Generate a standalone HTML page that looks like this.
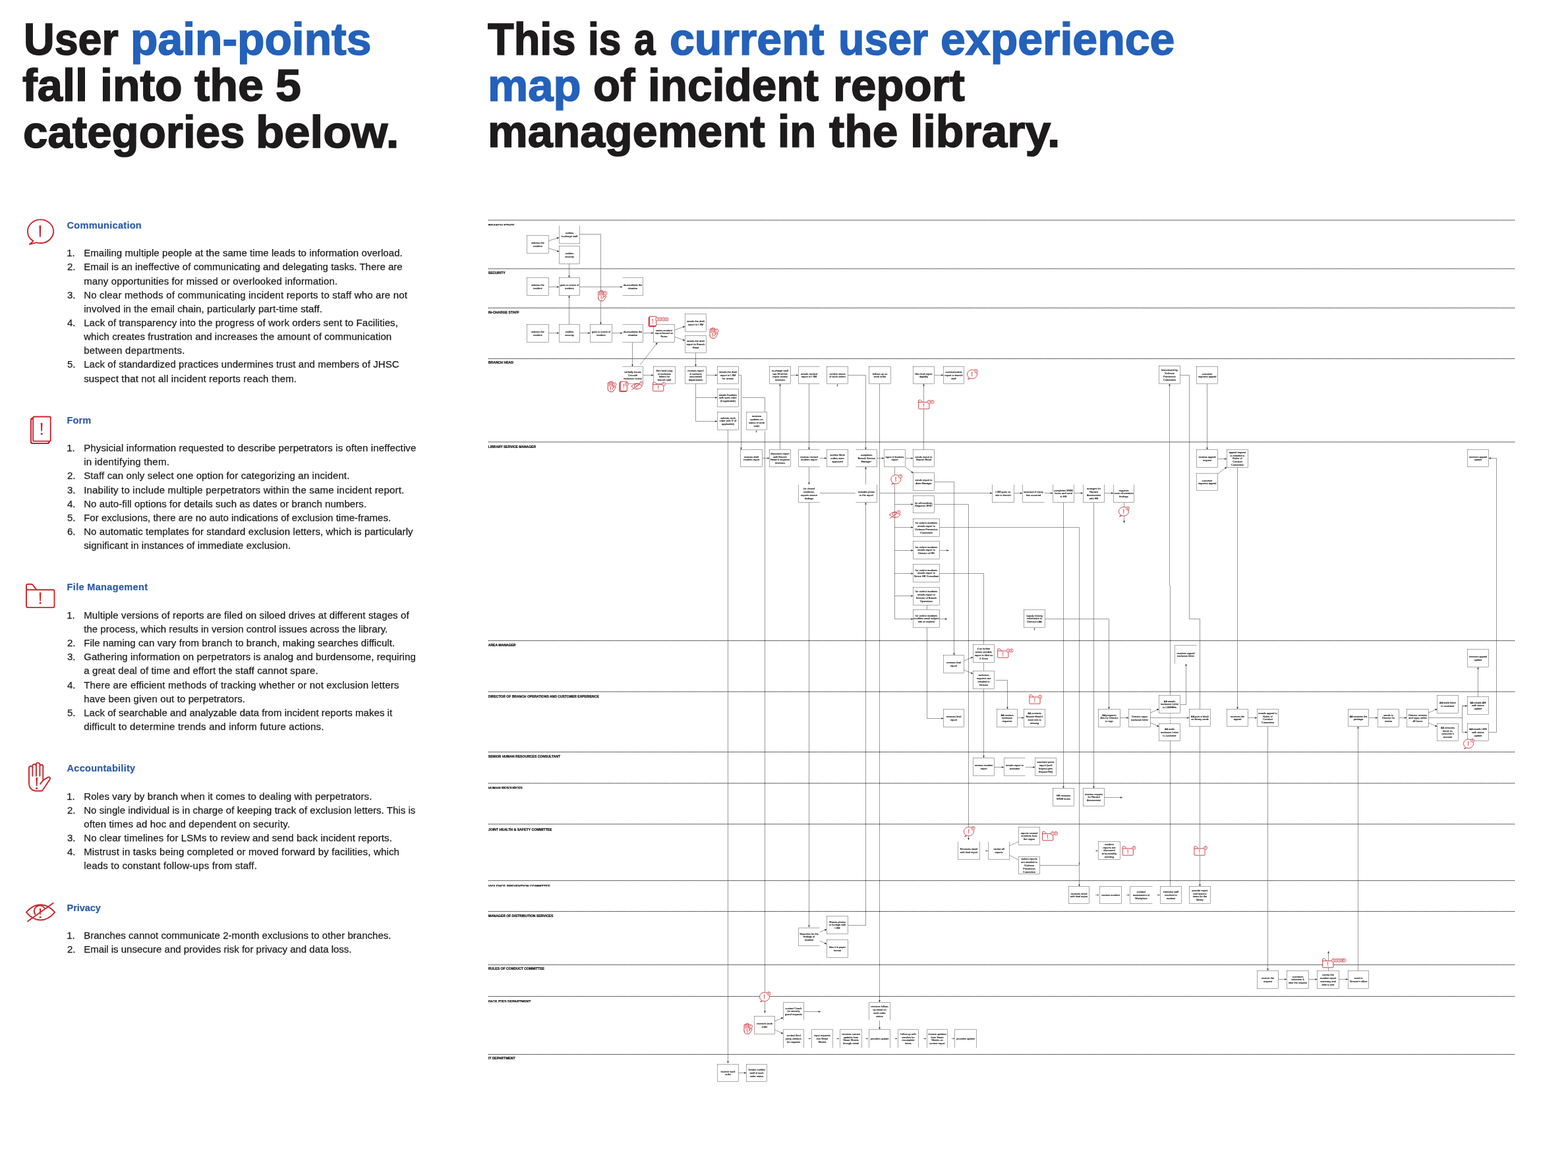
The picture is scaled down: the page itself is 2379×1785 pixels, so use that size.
<!DOCTYPE html>
<html lang="en"><head><meta charset="utf-8"><title>User experience map of incident report management</title>
<style>
html,body{margin:0;padding:0;background:#fff}
body{width:2379px;height:1785px;position:relative;overflow:hidden;font-family:"Liberation Sans",Arial,sans-serif;color:#222}
h1,h2,ol,li,section{margin:0;padding:0;list-style:none;font-weight:normal;font-size:inherit}
.hl{position:absolute;white-space:pre;font-size:69px;line-height:70px;font-weight:bold;color:#1d1b1c;-webkit-text-stroke:1.6px currentColor;transform-origin:0 0}
.hl.b{color:#2461ba}
.st{position:absolute;white-space:nowrap;font-size:14.6px;line-height:21px;font-weight:bold;color:#2e5ca8;-webkit-text-stroke:0.2px #2e5ca8}
.tl{position:absolute;white-space:nowrap;font-size:15px;line-height:21px;color:#1c1c1c;-webkit-text-stroke:0.25px #1c1c1c}
.ic{position:absolute;overflow:visible}
#map{position:absolute;left:0;top:0}
</style></head>
<body>
<h1><span class="hl" style="left:36.1px;top:25.09px;transform:scaleX(0.9365)">User </span>
<span class="hl b" style="left:198.31px;top:25.09px;transform:scaleX(0.9827)">pain-points</span>
<span class="hl" style="left:34.28px;top:95.09px;transform:scaleX(0.9944)">fall </span>
<span class="hl" style="left:151.99px;top:95.09px;transform:scaleX(0.9861)">into </span>
<span class="hl" style="left:294.86px;top:95.09px;transform:scaleX(1.0148)">the </span>
<span class="hl" style="left:418.06px;top:95.09px;transform:scaleX(1.0116)">5</span>
<span class="hl" style="left:34.64px;top:165.59px;transform:scaleX(0.9747)">categories </span>
<span class="hl" style="left:388.34px;top:165.59px;transform:scaleX(1.0248)">below.</span></h1>
<main>
<section>
<svg class="ic" style="left:38px;top:328px" width="50" height="48" viewBox="38 328 50 48" fill="none" stroke="#c9252c" stroke-width="1.9" stroke-linejoin="round" stroke-linecap="round"><path fill="#fff" d="M50.6 365.9 C44.4 362.7 41.9 357.2 41.9 351.1 C41.9 341.4 50.7 333.4 61.5 333.4 C72.3 333.4 81.2 341.4 81.2 351.1 C81.2 360.9 72.3 369 61.5 369 C59.3 369 57.2 368.7 55.3 368.1 L44.9 370.8 Z"/><path d="M59.45 342.3 L62.35 342.3 L61.77 359.8 L60.03 359.8 Z" fill="#c9252c" stroke="none"/></svg>
<h2 class="st" style="left:101.6px;top:331.89px;letter-spacing:0.24px">Communication</h2>
<ol>
<li><span class="tl" style="left:101.2px;top:373.32px">1.</span><span class="tl" style="left:127.2px;top:373.32px;letter-spacing:0.07px">Emailing multiple people at the same time leads to information overload.</span></li>
<li><span class="tl" style="left:102px;top:394.46px">2.</span><span class="tl" style="left:127.2px;top:394.46px;letter-spacing:0.03px">Email is an ineffective of communicating and delegating tasks. There are</span><span class="tl" style="left:127.2px;top:415.59px;letter-spacing:0.13px">many opportunities for missed or overlooked information.</span></li>
<li><span class="tl" style="left:102px;top:436.73px">3.</span><span class="tl" style="left:127.2px;top:436.73px;letter-spacing:0.19px">No clear methods of communicating incident reports to staff who are not</span><span class="tl" style="left:127.2px;top:457.86px;letter-spacing:0.09px">involved in the email chain, particularly part-time staff.</span></li>
<li><span class="tl" style="left:102px;top:479px">4.</span><span class="tl" style="left:127.2px;top:479px;letter-spacing:0.09px">Lack of transparency into the progress of work orders sent to Facilities,</span><span class="tl" style="left:127.2px;top:500.13px;letter-spacing:0.09px">which creates frustration and increases the amount of communication</span><span class="tl" style="left:127.2px;top:521.27px;letter-spacing:0.25px">between departments.</span></li>
<li><span class="tl" style="left:102px;top:542.4px">5.</span><span class="tl" style="left:127.2px;top:542.4px;letter-spacing:0.06px">Lack of standardized practices undermines trust and members of JHSC</span><span class="tl" style="left:127.2px;top:563.54px;letter-spacing:0.16px">suspect that not all incident reports reach them.</span></li>
</ol>
</section>
<section>
<svg class="ic" style="left:42px;top:628px" width="40" height="50" viewBox="42 628 40 50" fill="none" stroke="#c9252c" stroke-width="1.9" stroke-linejoin="round" stroke-linecap="round"><path fill="#fff" d="M50.1 634.7 Q46.9 634.9 46.9 638 L46.9 670.3 Q46.9 672.95 49.6 672.95 L72 672.95 Q74.7 672.95 74.8 669.9"/><rect fill="#fff" x="50.15" y="632.55" width="26.6" height="37.1" rx="1.6"/><path d="M50.1 634.7 Q46.9 634.9 46.9 638 L46.9 670.3 Q46.9 672.95 49.6 672.95 L72 672.95 Q74.7 672.95 74.8 669.9"/><path d="M61.75 642 L64.45 642 L63.91 654.4 L62.29 654.4 Z" fill="#c9252c" stroke="none"/><circle cx="63.1" cy="658.4" r="1.5" fill="#c9252c" stroke="none"/></svg>
<h2 class="st" style="left:101.6px;top:627.78px;letter-spacing:0.03px">Form</h2>
<ol>
<li><span class="tl" style="left:101.2px;top:669.21px">1.</span><span class="tl" style="left:127.2px;top:669.21px;letter-spacing:0.12px">Physicial information requested to describe perpetrators is often ineffective</span><span class="tl" style="left:127.2px;top:690.35px;letter-spacing:0.24px">in identifying them.</span></li>
<li><span class="tl" style="left:102px;top:711.48px">2.</span><span class="tl" style="left:127.2px;top:711.48px;letter-spacing:0.12px">Staff can only select one option for categorizing an incident.</span></li>
<li><span class="tl" style="left:102px;top:732.62px">3.</span><span class="tl" style="left:127.2px;top:732.62px;letter-spacing:0.19px">Inability to include multiple perpetrators within the same incident report.</span></li>
<li><span class="tl" style="left:102px;top:753.75px">4.</span><span class="tl" style="left:127.2px;top:753.75px;letter-spacing:0.07px">No auto-fill options for details such as dates or branch numbers.</span></li>
<li><span class="tl" style="left:102px;top:774.89px">5.</span><span class="tl" style="left:127.2px;top:774.89px;letter-spacing:0.01px">For exclusions, there are no auto indications of exclusion time-frames.</span></li>
<li><span class="tl" style="left:102px;top:796.02px">6.</span><span class="tl" style="left:127.2px;top:796.02px;letter-spacing:0.1px">No automatic templates for standard exclusion letters, which is particularly</span><span class="tl" style="left:127.2px;top:817.16px;letter-spacing:0.06px">significant in instances of immediate exclusion.</span></li>
</ol>
</section>
<section>
<svg class="ic" style="left:36px;top:882px" width="52" height="46" viewBox="36 882 52 46" fill="none" stroke="#c9252c" stroke-width="1.9" stroke-linejoin="round" stroke-linecap="round"><path fill="#fff" d="M40 895.2 L80.4 895.2 Q82.5 895.2 82.5 897.3 L82.5 920 Q82.5 922.1 80.4 922.1 L42.1 922.1 Q40 922.1 40 920 L40 888.6 Q40 886.7 42 886.7 L47.6 886.7 Q49 886.7 49.8 887.9 L55.4 895.2"/><path d="M59.8 899.2 L62.4 899.2 L61.88 912.4 L60.32 912.4 Z" fill="#c9252c" stroke="none"/><circle cx="61.1" cy="915.3" r="1.5" fill="#c9252c" stroke="none"/></svg>
<h2 class="st" style="left:101.6px;top:881.4px;letter-spacing:0.29px">File Management</h2>
<ol>
<li><span class="tl" style="left:101.2px;top:922.83px">1.</span><span class="tl" style="left:127.2px;top:922.83px;letter-spacing:0.11px">Multiple versions of reports are filed on siloed drives at different stages of</span><span class="tl" style="left:127.2px;top:943.97px;letter-spacing:0.04px">the process, which results in version control issues across the library.</span></li>
<li><span class="tl" style="left:102px;top:965.1px">2.</span><span class="tl" style="left:127.2px;top:965.1px;letter-spacing:0.09px">File naming can vary from branch to branch, making searches difficult.</span></li>
<li><span class="tl" style="left:102px;top:986.24px">3.</span><span class="tl" style="left:127.2px;top:986.24px;letter-spacing:0.08px">Gathering information on perpetrators is analog and burdensome, requiring</span><span class="tl" style="left:127.2px;top:1007.37px;letter-spacing:0.14px">a great deal of time and effort the staff cannot spare.</span></li>
<li><span class="tl" style="left:102px;top:1028.51px">4.</span><span class="tl" style="left:127.2px;top:1028.51px;letter-spacing:0.15px">There are efficient methods of tracking whether or not exclusion letters</span><span class="tl" style="left:127.2px;top:1049.64px;letter-spacing:0.11px">have been given out to perpetrators.</span></li>
<li><span class="tl" style="left:102px;top:1070.78px">5.</span><span class="tl" style="left:127.2px;top:1070.78px;letter-spacing:0.04px">Lack of searchable and analyzable data from incident reports makes it</span><span class="tl" style="left:127.2px;top:1091.91px;letter-spacing:0.2px">difficult to determine trends and inform future actions.</span></li>
</ol>
</section>
<section>
<svg class="ic" style="left:40px;top:1153px" width="42" height="52" viewBox="40 1153 42 52" fill="none" stroke="#c9252c" stroke-width="1.9" stroke-linejoin="round" stroke-linecap="round"><path fill="#fff" d="M44 1188.5 L44 1165.6 Q44 1162.9 46.7 1162.9 Q49.4 1162.9 49.4 1165.6 L49.4 1177.8 M49.4 1165.6 L49.4 1162.6 Q49.4 1159.9 52.15 1159.9 Q54.9 1159.9 54.9 1162.6 L54.9 1177.8 M54.9 1162.6 L54.9 1160.5 Q54.9 1157.85 57.65 1157.85 Q60.4 1157.85 60.4 1160.5 L60.4 1177.8 M60.4 1163.4 Q60.4 1160.7 62.85 1160.7 Q65.3 1160.7 65.3 1163.4 L65.3 1184.4 L72.6 1179.9 Q74.4 1178.9 75.6 1180.3 Q76.5 1181.6 75.6 1183 L63.9 1200.45 L53.4 1200.45 Q44 1199 44 1188.5 M65.3 1184.4 L61.2 1189.9"/><path d="M54.35 1180.2 L57.05 1180.2 L56.51 1193.3 L54.89 1193.3 Z" fill="#c9252c" stroke="none"/><circle cx="55.7" cy="1196.4" r="1.5" fill="#c9252c" stroke="none"/></svg>
<h2 class="st" style="left:101.6px;top:1156.16px;letter-spacing:0.23px">Accountability</h2>
<ol>
<li><span class="tl" style="left:101.2px;top:1197.59px">1.</span><span class="tl" style="left:127.2px;top:1197.59px;letter-spacing:0.11px">Roles vary by branch when it comes to dealing with perpetrators.</span></li>
<li><span class="tl" style="left:102px;top:1218.72px">2.</span><span class="tl" style="left:127.2px;top:1218.72px;letter-spacing:0.04px">No single individual is in charge of keeping track of exclusion letters. This is</span><span class="tl" style="left:127.2px;top:1239.86px;letter-spacing:0.14px">often times ad hoc and dependent on security.</span></li>
<li><span class="tl" style="left:102px;top:1260.99px">3.</span><span class="tl" style="left:127.2px;top:1260.99px;letter-spacing:0.11px">No clear timelines for LSMs to review and send back incident reports.</span></li>
<li><span class="tl" style="left:102px;top:1282.13px">4.</span><span class="tl" style="left:127.2px;top:1282.13px;letter-spacing:0.17px">Mistrust in tasks being completed or moved forward by facilities, which</span><span class="tl" style="left:127.2px;top:1303.26px;letter-spacing:0.18px">leads to constant follow-ups from staff.</span></li>
</ol>
</section>
<section>
<svg class="ic" style="left:36px;top:1366px" width="52" height="38" viewBox="36 1366 52 38" fill="none" stroke="#c9252c" stroke-width="1.9" stroke-linejoin="round" stroke-linecap="round"><path d="M39.9 1384.6 Q49.5 1373.2 61.5 1373.2 Q73.5 1373.2 83.1 1384.6 Q73.5 1396.5 61.5 1396.5 Q49.5 1396.5 39.9 1384.6 Z"/><path d="M41.9 1398.4 L80.7 1370.7"/><path d="M53.3 1387.8 A8.1 8.1 0 0 1 67.4 1378.2"/><path d="M59.95 1378.9 L62.25 1378.9 L61.79 1388.3 L60.41 1388.3 Z" fill="#c9252c" stroke="none"/><circle cx="61.1" cy="1392.2" r="1.4" fill="#c9252c" stroke="none"/></svg>
<h2 class="st" style="left:101.6px;top:1367.51px;letter-spacing:-0.1px">Privacy</h2>
<ol>
<li><span class="tl" style="left:101.2px;top:1408.94px">1.</span><span class="tl" style="left:127.2px;top:1408.94px;letter-spacing:0.03px">Branches cannot communicate 2-month exclusions to other branches.</span></li>
<li><span class="tl" style="left:102px;top:1430.07px">2.</span><span class="tl" style="left:127.2px;top:1430.07px;letter-spacing:-0.01px">Email is unsecure and provides risk for privacy and data loss.</span></li>
</ol>
</section>
</main>
<h1><span class="hl" style="left:740.48px;top:25.09px;transform:scaleX(0.9414)">This </span>
<span class="hl" style="left:892.23px;top:25.09px;transform:scaleX(0.8761)">is </span>
<span class="hl" style="left:961.58px;top:25.09px;transform:scaleX(0.8456)">a </span>
<span class="hl b" style="left:1016.02px;top:25.09px;transform:scaleX(0.9859)">current </span>
<span class="hl b" style="left:1271.7px;top:25.09px;transform:scaleX(0.9344)">user </span>
<span class="hl b" style="left:1426.82px;top:25.09px;transform:scaleX(0.9855)">experience</span>
<span class="hl b" style="left:739.85px;top:95.09px;transform:scaleX(0.9970)">map </span>
<span class="hl" style="left:900.34px;top:95.09px;transform:scaleX(0.9750)">of </span>
<span class="hl" style="left:983.42px;top:95.09px;transform:scaleX(0.9794)">incident </span>
<span class="hl" style="left:1264.03px;top:95.09px;transform:scaleX(1.0020)">report</span>
<span class="hl" style="left:739.88px;top:165.49px;transform:scaleX(0.9882)">management </span>
<span class="hl" style="left:1180.45px;top:165.49px;transform:scaleX(0.9472)">in </span>
<span class="hl" style="left:1257.75px;top:165.49px;transform:scaleX(1.0090)">the </span>
<span class="hl" style="left:1381.19px;top:165.49px;transform:scaleX(1.0110)">library.</span></h1>
<svg id="map" width="2379" height="1785" viewBox="0 0 2379 1785" font-family="&quot;Liberation Sans&quot;, Arial, sans-serif">
<defs>
<clipPath id="lc0"><rect x="730" y="335.25" width="300" height="7"/></clipPath>
<clipPath id="lc8"><rect x="730" y="1190" width="300" height="7.3"/></clipPath>
<clipPath id="lc10"><rect x="730" y="1337.75" width="300" height="7.8"/></clipPath>
<clipPath id="lc13"><rect x="730" y="1513.5" width="300" height="7.8"/></clipPath>
</defs>
<g stroke="#000" stroke-width="1" stroke-dasharray="1.3 0.8" fill="none">
<path d="M740.75 334.15H2298.5"/>
<path d="M740.75 407.9H2298.5"/>
<path d="M740.75 467.4H2298.5"/>
<path d="M740.75 544.4H2298.5"/>
<path d="M740.75 670.9H2298.5"/>
<path d="M740.75 972.4H2298.5"/>
<path d="M740.75 1049.9H2298.5"/>
<path d="M740.75 1141.4H2298.5"/>
<path d="M740.75 1188.9H2298.5"/>
<path d="M740.75 1250.9H2298.5"/>
<path d="M740.75 1336.65H2298.5"/>
<path d="M740.75 1383.4H2298.5"/>
<path d="M740.75 1464.4H2298.5"/>
<path d="M740.75 1512.4H2298.5"/>
<path d="M740.75 1600.4H2298.5"/>
</g>
<g font-size="5.3" font-weight="bold" fill="#000" stroke="#000" stroke-width="0.2">
<text x="740.75" y="343.8" textLength="39.75" lengthAdjust="spacingAndGlyphs" clip-path="url(#lc0)">BRANCH STAFF</text>
<text x="740.75" y="415.95" textLength="26" lengthAdjust="spacingAndGlyphs">SECURITY</text>
<text x="740.75" y="476.45" textLength="47" lengthAdjust="spacingAndGlyphs">IN-CHARGE STAFF</text>
<text x="740.75" y="552.45" textLength="38.25" lengthAdjust="spacingAndGlyphs">BRANCH HEAD</text>
<text x="740.75" y="679.95" textLength="72.25" lengthAdjust="spacingAndGlyphs">LIBRARY SERVICE MANAGER</text>
<text x="740.75" y="981.2" textLength="41.75" lengthAdjust="spacingAndGlyphs">AREA MANAGER</text>
<text x="740.75" y="1059.45" textLength="168" lengthAdjust="spacingAndGlyphs">DIRECTOR OF BRANCH OPERATIONS AND CUSTOMER EXPERIENCE</text>
<text x="740.75" y="1149.95" textLength="109.25" lengthAdjust="spacingAndGlyphs">SENIOR HUMAN RESOURCES CONSULTANT</text>
<text x="740.75" y="1198.15" textLength="52.25" lengthAdjust="spacingAndGlyphs" clip-path="url(#lc8)">HUMAN RESOURCES</text>
<text x="740.75" y="1260.7" textLength="96.75" lengthAdjust="spacingAndGlyphs">JOINT HEALTH &amp; SAFETY COMMITTEE</text>
<text x="740.75" y="1346.7" textLength="94.25" lengthAdjust="spacingAndGlyphs" clip-path="url(#lc10)">VIOLENCE PREVENTION COMMITTEE</text>
<text x="740.75" y="1391.95" textLength="98.5" lengthAdjust="spacingAndGlyphs">MANAGER OF DISTRIBUTION SERVICES</text>
<text x="740.75" y="1472.45" textLength="85.25" lengthAdjust="spacingAndGlyphs">RULES OF CONDUCT COMMITTEE</text>
<text x="740.75" y="1522.45" textLength="64.75" lengthAdjust="spacingAndGlyphs" clip-path="url(#lc13)">FACILITIES DEPARTMENT</text>
<text x="740.75" y="1608.2" textLength="40.75" lengthAdjust="spacingAndGlyphs">IT DEPARTMENT</text>
</g>
<g fill="none" stroke="#222" stroke-width="0.46">
<path d="M832.5 365.5 L848.25 360.5"/>
<path d="M832.5 376.75 L848.25 382"/>
<path d="M879.5 355.5 L911.5 355.5 L911.5 492.5"/>
<path d="M863.5 400.5 L863.5 421.5"/>
<path d="M832.5 435.5 L848.25 435.5"/>
<path d="M879.5 435.5 L944.5 435.5"/>
<path d="M863.5 492.5 L863.5 448.5"/>
<path d="M832.5 505.5 L848.25 505.5"/>
<path d="M879.5 505.5 L895.5 505.5"/>
<path d="M928.5 505.5 L944.5 505.5"/>
<path d="M975.75 505.5 L991.5 505.5"/>
<path d="M1023.75 500.75 L1039.25 495.5"/>
<path d="M1023.75 511.25 L1039.25 517"/>
<path d="M959.5 519.5 L959.5 556.25"/>
<path d="M971.25 553.75 L997.5 520"/>
<path d="M1055.5 535.5 L1055.5 556.25"/>
<path d="M975.75 569.5 L991.5 569.5"/>
<path d="M1071.5 569.5 L1088.25 569.5"/>
<path d="M1055.5 582.5 L1055.5 639.5 L1088.25 639.5"/>
<path d="M1055.5 603.5 L1088.25 603.5"/>
<path d="M1120.5 569.5 L1124.5 569.5 L1124.5 682.5"/>
<path d="M1126 603.5 L1160.5 603.5 L1160.5 625.5"/>
<path d="M1160.5 654.5 L1160.5 1537.5"/>
<path d="M1104.5 652.5 L1104.5 1613.75"/>
<path d="M1183.5 682.5 L1183.5 582.5"/>
<path d="M1199.5 569.5 L1211.25 569.5"/>
<path d="M1227.5 582.5 L1227.5 682.5"/>
<path d="M1156.5 695.5 L1167.5 695.5"/>
<path d="M1243.75 695.5 L1254.25 695.5"/>
<path d="M1227.5 708.75 L1227.5 735.5"/>
<path d="M1286.75 569.5 L1313.5 569.5 L1313.5 682.5"/>
<path d="M1334.5 582.5 L1334.5 1521.25"/>
<path d="M1401.5 682.5 L1401.5 582.5"/>
<path d="M1417.5 569.5 L1431.5 569.5"/>
<path d="M1330.5 695.5 L1341.5 695.5"/>
<path d="M1373.5 695.5 L1385.5 695.5"/>
<path d="M1286.75 1404.5 L1313.5 1404.5 L1313.5 762.5"/>
<path d="M1313.5 735.5 L1313.5 708.75"/>
<path d="M1357.5 708.75 L1357.5 939.5 L1385.5 939.5"/>
<path d="M1357.25 765.5 L1385.5 765.5"/>
<path d="M1357.25 800.5 L1385.5 800.5"/>
<path d="M1357.25 835.5 L1385.5 835.5"/>
<path d="M1357.25 870.5 L1385.5 870.5"/>
<path d="M1357.25 904.5 L1385.5 904.5"/>
<path d="M1373.5 708.75 L1385.5 718"/>
<path d="M1417.5 731.5 L1447.5 731.5 L1447.5 994.5"/>
<path d="M1243.75 748.5 L1298 748.5"/>
<path d="M1334.5 748.5 L1505.5 748.5"/>
<path d="M1538.5 748.5 L1551 748.5"/>
<path d="M1584.25 748.5 L1597.25 748.5"/>
<path d="M1629.25 748.5 L1643 748.5"/>
<path d="M1675.5 748.5 L1689.25 748.5"/>
<path d="M1417.5 765.5 L1469.5 765.5 L1469.5 1275"/>
<path d="M1425.5 800.5 L1637.5 800.5 L1637.5 1345.5"/>
<path d="M1425.5 835.5 L1439.5 835.5"/>
<path d="M1425.5 870.5 L1492.5 870.5 L1492.5 978.25"/>
<path d="M1492.5 1005.5 L1492.5 1018.25"/>
<path d="M1492.5 1045.5 L1492.5 1150"/>
<path d="M1406.5 918.5 L1406.5 925.5"/>
<path d="M1406.5 952.5 L1406.5 1090.5 L1431.5 1090.5"/>
<path d="M1425.5 939.5 L1437 939.5"/>
<path d="M1585.5 939.5 L1682.5 939.5 L1682.5 1076.25"/>
<path d="M1613.5 762.5 L1613.5 1196.5"/>
<path d="M1659.5 762.5 L1659.5 1196.5"/>
<path d="M1705.5 762.5 L1705.5 793.75"/>
<path d="M1775.5 1345.5 L1775.5 1124.5"/>
<path d="M1775.5 1098 L1775.5 1082.5" stroke-dasharray="2 1.5"/>
<path d="M1775.5 1055.5 L1775.5 890 L1774.5 888 L1774.5 582.5"/>
<path d="M1790.5 569.5 L1804.5 569.5 L1804.5 939.5 L1820.5 939.5 L1820.5 1076.25"/>
<path d="M1820.5 1102.5 L1820.5 1345.5"/>
<path d="M1831.5 582.5 L1831.5 682.5"/>
<path d="M1847.75 696.5 L1861.25 696.5"/>
<path d="M1847.75 719 L1861.25 709"/>
<path d="M1877.5 709.5 L1877.5 1076.25"/>
<path d="M2258.75 1111.5 L2270.5 1111.5 L2270.5 695.5 L2258.75 695.5"/>
<path d="M1462.5 1003 L1476.25 997.5"/>
<path d="M1462.5 1017 L1476.25 1022.5"/>
<path d="M1510.5 1032.5 L1528.5 1032.5 L1528.5 1076.25"/>
<path d="M1543.5 1089.5 L1553.5 1089.5"/>
<path d="M1699.25 1089.5 L1712.5 1089.5"/>
<path d="M1745.5 1082 L1758.5 1076"/>
<path d="M1745.5 1097 L1758.5 1103"/>
<path d="M1745.5 1089.5 L1804.5 1089.5"/>
<path d="M1790.5 1069.5 L1799.5 1069.5 L1799.5 1007.5"/>
<path d="M1893.5 1089.5 L1907.25 1089.5"/>
<path d="M1923.5 1102.5 L1923.5 1473.25"/>
<path d="M2060.5 1473.25 L2060.5 1102.5"/>
<path d="M2076.5 1089.5 L2090.25 1089.5"/>
<path d="M2122.75 1089.5 L2134.25 1089.5"/>
<path d="M2167.25 1082 L2180.5 1076"/>
<path d="M2167.25 1097 L2180.5 1103"/>
<path d="M2167.25 1089.5 L2218.5 1089.5"/>
<path d="M2226.25 1071.5 L2218.5 1071.5 L2218.5 1111.5 L2226.25 1111.5"/>
<path d="M2218.5 1071.5 L2226.25 1071.5"/>
<path d="M2242.5 1057.5 L2242.5 1012.5"/>
<path d="M1508.5 1164.5 L1523 1164.5"/>
<path d="M1555.5 1164.5 L1570.5 1164.5"/>
<path d="M1675.5 1210.5 L1703 1210.5"/>
<path d="M1531.25 1284 L1545 1277.5"/>
<path d="M1531.25 1298 L1545 1305"/>
<path d="M1577.5 1313.5 L1637.25 1313.5"/>
<path d="M1637.5 1308 L1637.5 1312.6"/>
<path d="M1227.5 762.5 L1227.5 1407.5"/>
<path d="M1243.75 1415 L1254.25 1410.5"/>
<path d="M1243.75 1428 L1254.25 1433"/>
<path d="M1175.5 1550 L1188.25 1544.5"/>
<path d="M1175.5 1563 L1188.25 1569"/>
<path d="M1219.5 1535.5 L1245 1535.5"/>
<path d="M1334.5 1548.75 L1334.5 1562.5"/>
<path d="M1120.5 1628.5 L1132.25 1628.5"/>
<path d="M1939.5 1486.5 L1952.25 1486.5"/>
<path d="M1985.5 1486.5 L1998.5 1486.5"/>
<path d="M2031.75 1486.5 L2045.25 1486.5"/>
<path d="M2015.5 1473.25 L2015.5 1443.75"/>
<path d="M1226 1576.5 L1230 1576.5"/>
<path d="M1269 1576.5 L1273 1576.5"/>
<path d="M1313 1576.5 L1317 1576.5"/>
<path d="M1357 1576.5 L1361 1576.5"/>
<path d="M1401 1576.5 L1405 1576.5"/>
<path d="M1444 1576.5 L1448 1576.5"/>
<path d="M1662 1358.5 L1667 1358.5"/>
<path d="M1709 1358.5 L1713.5 1358.5"/>
<path d="M1755 1358.5 L1759.5 1358.5"/>
<path d="M1495 1291.5 L1498.5 1291.5"/>
<path d="M1662 1291.5 L1665.5 1291.5"/>
<path d="M1270.5 583 L1270.5 586.5"/>
<path d="M1147.5 653 L1147.5 656.5"/>
<path d="M1569.5 953 L1569.5 956.5"/>
</g>
<g fill="#222" stroke="none">
<path d="M848.25 360.5L845.69 362.68L844.9 360.2Z"/>
<path d="M848.25 382L844.9 382.25L845.72 379.79Z"/>
<path d="M911.5 492.5L910.2 489.4L912.8 489.4Z"/>
<path d="M863.5 421.5L862.2 418.4L864.8 418.4Z"/>
<path d="M848.25 435.5L845.15 436.8L845.15 434.2Z"/>
<path d="M944.5 435.5L941.4 436.8L941.4 434.2Z"/>
<path d="M863.5 448.5L864.8 451.6L862.2 451.6Z"/>
<path d="M848.25 505.5L845.15 506.8L845.15 504.2Z"/>
<path d="M895.5 505.5L892.4 506.8L892.4 504.2Z"/>
<path d="M944.5 505.5L941.4 506.8L941.4 504.2Z"/>
<path d="M991.5 505.5L988.4 506.8L988.4 504.2Z"/>
<path d="M1039.25 495.5L1036.73 497.73L1035.9 495.26Z"/>
<path d="M1039.25 517L1035.89 517.14L1036.8 514.7Z"/>
<path d="M959.5 556.25L958.2 553.15L960.8 553.15Z"/>
<path d="M997.5 520L996.62 523.25L994.57 521.65Z"/>
<path d="M1055.5 556.25L1054.2 553.15L1056.8 553.15Z"/>
<path d="M991.5 569.5L988.4 570.8L988.4 568.2Z"/>
<path d="M1088.25 569.5L1085.15 570.8L1085.15 568.2Z"/>
<path d="M1088.25 639.5L1085.15 640.8L1085.15 638.2Z"/>
<path d="M1088.25 603.5L1085.15 604.8L1085.15 602.2Z"/>
<path d="M1124.5 682.5L1123.2 679.4L1125.8 679.4Z"/>
<path d="M1160.5 1537.5L1159.2 1534.4L1161.8 1534.4Z"/>
<path d="M1104.5 1613.75L1103.2 1610.65L1105.8 1610.65Z"/>
<path d="M1183.5 582.5L1184.8 585.6L1182.2 585.6Z"/>
<path d="M1211.25 569.5L1208.15 570.8L1208.15 568.2Z"/>
<path d="M1227.5 682.5L1226.2 679.4L1228.8 679.4Z"/>
<path d="M1167.5 695.5L1164.4 696.8L1164.4 694.2Z"/>
<path d="M1254.25 695.5L1251.15 696.8L1251.15 694.2Z"/>
<path d="M1227.5 735.5L1226.2 732.4L1228.8 732.4Z"/>
<path d="M1313.5 682.5L1312.2 679.4L1314.8 679.4Z"/>
<path d="M1334.5 1521.25L1333.2 1518.15L1335.8 1518.15Z"/>
<path d="M1401.5 582.5L1402.8 585.6L1400.2 585.6Z"/>
<path d="M1431.5 569.5L1428.4 570.8L1428.4 568.2Z"/>
<path d="M1341.5 695.5L1338.4 696.8L1338.4 694.2Z"/>
<path d="M1385.5 695.5L1382.4 696.8L1382.4 694.2Z"/>
<path d="M1313.5 762.5L1314.8 765.6L1312.2 765.6Z"/>
<path d="M1313.5 708.75L1314.8 711.85L1312.2 711.85Z"/>
<path d="M1385.5 939.5L1382.4 940.8L1382.4 938.2Z"/>
<path d="M1385.5 765.5L1382.4 766.8L1382.4 764.2Z"/>
<path d="M1385.5 800.5L1382.4 801.8L1382.4 799.2Z"/>
<path d="M1385.5 835.5L1382.4 836.8L1382.4 834.2Z"/>
<path d="M1385.5 870.5L1382.4 871.8L1382.4 869.2Z"/>
<path d="M1385.5 904.5L1382.4 905.8L1382.4 903.2Z"/>
<path d="M1385.5 718L1382.25 717.14L1383.84 715.08Z"/>
<path d="M1447.5 994.5L1446.2 991.4L1448.8 991.4Z"/>
<path d="M1505.5 748.5L1502.4 749.8L1502.4 747.2Z"/>
<path d="M1551 748.5L1547.9 749.8L1547.9 747.2Z"/>
<path d="M1597.25 748.5L1594.15 749.8L1594.15 747.2Z"/>
<path d="M1643 748.5L1639.9 749.8L1639.9 747.2Z"/>
<path d="M1689.25 748.5L1686.15 749.8L1686.15 747.2Z"/>
<path d="M1469.5 1275L1468.2 1271.9L1470.8 1271.9Z"/>
<path d="M1637.5 1345.5L1636.2 1342.4L1638.8 1342.4Z"/>
<path d="M1439.5 835.5L1436.4 836.8L1436.4 834.2Z"/>
<path d="M1492.5 1150L1491.2 1146.9L1493.8 1146.9Z"/>
<path d="M1431.5 1090.5L1428.4 1091.8L1428.4 1089.2Z"/>
<path d="M1437 939.5L1433.9 940.8L1433.9 938.2Z"/>
<path d="M1682.5 1076.25L1681.2 1073.15L1683.8 1073.15Z"/>
<path d="M1613.5 1196.5L1612.2 1193.4L1614.8 1193.4Z"/>
<path d="M1659.5 1196.5L1658.2 1193.4L1660.8 1193.4Z"/>
<path d="M1705.5 793.75L1704.2 790.65L1706.8 790.65Z"/>
<path d="M1774.5 582.5L1775.8 585.6L1773.2 585.6Z"/>
<path d="M1820.5 1345.5L1819.2 1342.4L1821.8 1342.4Z"/>
<path d="M1831.5 682.5L1830.2 679.4L1832.8 679.4Z"/>
<path d="M1861.25 696.5L1858.15 697.8L1858.15 695.2Z"/>
<path d="M1861.25 709L1859.53 711.89L1857.99 709.8Z"/>
<path d="M1877.5 1076.25L1876.2 1073.15L1878.8 1073.15Z"/>
<path d="M2258.75 695.5L2261.85 694.2L2261.85 696.8Z"/>
<path d="M1476.25 997.5L1473.85 999.86L1472.89 997.44Z"/>
<path d="M1476.25 1022.5L1472.89 1022.56L1473.85 1020.14Z"/>
<path d="M1528.5 1076.25L1527.2 1073.15L1529.8 1073.15Z"/>
<path d="M1553.5 1089.5L1550.4 1090.8L1550.4 1088.2Z"/>
<path d="M1712.5 1089.5L1709.4 1090.8L1709.4 1088.2Z"/>
<path d="M1758.5 1076L1756.23 1078.48L1755.14 1076.12Z"/>
<path d="M1758.5 1103L1755.14 1102.88L1756.23 1100.52Z"/>
<path d="M1804.5 1089.5L1801.4 1090.8L1801.4 1088.2Z"/>
<path d="M1799.5 1007.5L1800.8 1010.6L1798.2 1010.6Z"/>
<path d="M1907.25 1089.5L1904.15 1090.8L1904.15 1088.2Z"/>
<path d="M1923.5 1473.25L1922.2 1470.15L1924.8 1470.15Z"/>
<path d="M2060.5 1102.5L2061.8 1105.6L2059.2 1105.6Z"/>
<path d="M2090.25 1089.5L2087.15 1090.8L2087.15 1088.2Z"/>
<path d="M2134.25 1089.5L2131.15 1090.8L2131.15 1088.2Z"/>
<path d="M2180.5 1076L2178.21 1078.46L2177.14 1076.09Z"/>
<path d="M2180.5 1103L2177.14 1102.91L2178.21 1100.54Z"/>
<path d="M2226.25 1111.5L2223.15 1112.8L2223.15 1110.2Z"/>
<path d="M2226.25 1071.5L2223.15 1072.8L2223.15 1070.2Z"/>
<path d="M2242.5 1012.5L2243.8 1015.6L2241.2 1015.6Z"/>
<path d="M1523 1164.5L1519.9 1165.8L1519.9 1163.2Z"/>
<path d="M1570.5 1164.5L1567.4 1165.8L1567.4 1163.2Z"/>
<path d="M1703 1210.5L1699.9 1211.8L1699.9 1209.2Z"/>
<path d="M1637.5 1312.6L1636.6 1310.6L1638.4 1310.6Z"/>
<path d="M1227.5 1407.5L1226.2 1404.4L1228.8 1404.4Z"/>
<path d="M1254.25 1410.5L1251.91 1412.92L1250.89 1410.53Z"/>
<path d="M1254.25 1433L1250.89 1432.84L1252.01 1430.49Z"/>
<path d="M1188.25 1544.5L1185.92 1546.92L1184.89 1544.53Z"/>
<path d="M1188.25 1569L1184.89 1568.86L1186 1566.5Z"/>
<path d="M1245 1535.5L1241.9 1536.8L1241.9 1534.2Z"/>
<path d="M1334.5 1562.5L1333.2 1559.4L1335.8 1559.4Z"/>
<path d="M1132.25 1628.5L1129.15 1629.8L1129.15 1627.2Z"/>
<path d="M1952.25 1486.5L1949.15 1487.8L1949.15 1485.2Z"/>
<path d="M1998.5 1486.5L1995.4 1487.8L1995.4 1485.2Z"/>
<path d="M2045.25 1486.5L2042.15 1487.8L2042.15 1485.2Z"/>
<path d="M2015.5 1443.75L2016.8 1446.85L2014.2 1446.85Z"/>
<path d="M1230 1576.5L1228 1577.4L1228 1575.6Z"/>
<path d="M1273 1576.5L1271 1577.4L1271 1575.6Z"/>
<path d="M1317 1576.5L1315 1577.4L1315 1575.6Z"/>
<path d="M1361 1576.5L1359 1577.4L1359 1575.6Z"/>
<path d="M1405 1576.5L1403 1577.4L1403 1575.6Z"/>
<path d="M1448 1576.5L1446 1577.4L1446 1575.6Z"/>
<path d="M1667 1358.5L1665 1359.4L1665 1357.6Z"/>
<path d="M1713.5 1358.5L1711.5 1359.4L1711.5 1357.6Z"/>
<path d="M1759.5 1358.5L1757.5 1359.4L1757.5 1357.6Z"/>
<path d="M1498.5 1291.5L1496.5 1292.4L1496.5 1290.6Z"/>
<path d="M1665.5 1291.5L1663.5 1292.4L1663.5 1290.6Z"/>
<path d="M1270.5 586.5L1269.6 584.5L1271.4 584.5Z"/>
<path d="M1147.5 656.5L1146.6 654.5L1148.4 654.5Z"/>
<path d="M1569.5 956.5L1568.6 954.5L1570.4 954.5Z"/>
</g>
<g fill="#fff" stroke="#333" stroke-width="0.42">
<rect x="799.5" y="357.5" width="33" height="27"/>
<rect x="848.5" y="342.5" width="31" height="27" stroke="none"/>
<path fill="none" d="M848.5 369.5H879.5M848.5 342.5V369.5M879.5 342.5V369.5"/>
<rect x="848.5" y="373.5" width="31" height="27"/>
<rect x="799.5" y="421.5" width="33" height="27"/>
<rect x="848.5" y="421.5" width="31" height="27"/>
<rect x="944.5" y="421.5" width="31" height="27" stroke="none"/>
<path fill="none" d="M944.5 421.5H975.5M944.5 448.5H975.5M975.5 421.5V448.5"/>
<rect x="799.5" y="492.5" width="33" height="27"/>
<rect x="848.5" y="492.5" width="31" height="27"/>
<rect x="895.5" y="492.5" width="33" height="27"/>
<rect x="944.5" y="492.5" width="31" height="27" stroke="none"/>
<path fill="none" d="M944.5 492.5H975.5M944.5 519.5H975.5M975.5 492.5V519.5"/>
<rect x="991.5" y="492.5" width="32" height="27"/>
<rect x="1039.5" y="476.5" width="32" height="27"/>
<rect x="1039.5" y="509.5" width="32" height="26"/>
<rect x="944.5" y="556.5" width="31" height="26" stroke="none"/>
<path fill="none" d="M944.5 556.5H975.5M944.5 582.5H975.5M975.5 556.5V582.5"/>
<rect x="991.5" y="556.5" width="33" height="26"/>
<rect x="1039.5" y="556.5" width="32" height="26"/>
<rect x="1088.5" y="556.5" width="32" height="26"/>
<rect x="1167.5" y="556.5" width="32" height="26"/>
<rect x="1211.5" y="556.5" width="32" height="26" stroke="none"/>
<path fill="none" d="M1211.5 556.5H1243.5M1211.5 582.5H1243.5M1211.5 556.5V582.5"/>
<rect x="1254.5" y="556.5" width="32" height="26"/>
<rect x="1088.5" y="590.5" width="32" height="27"/>
<rect x="1088.5" y="625.5" width="32" height="27"/>
<rect x="1132.5" y="625.5" width="31" height="27"/>
<rect x="1318.5" y="556.5" width="33" height="26"/>
<rect x="1385.5" y="556.5" width="32" height="26"/>
<rect x="1431.5" y="556.5" width="31" height="26"/>
<rect x="1758.5" y="555.5" width="32" height="27"/>
<rect x="1815.5" y="556.5" width="32" height="26"/>
<rect x="1123.5" y="682.5" width="33" height="26"/>
<rect x="1167.5" y="682.5" width="32" height="26"/>
<rect x="1211.5" y="682.5" width="32" height="26" stroke="none"/>
<path fill="none" d="M1211.5 682.5H1243.5M1211.5 708.5H1243.5M1211.5 682.5V708.5"/>
<rect x="1254.5" y="682.5" width="32" height="26"/>
<rect x="1298.5" y="682.5" width="32" height="26" stroke="none"/>
<path fill="none" d="M1298.5 682.5H1330.5M1298.5 708.5H1330.5M1330.5 682.5V708.5"/>
<rect x="1341.5" y="682.5" width="32" height="26"/>
<rect x="1385.5" y="682.5" width="32" height="26"/>
<rect x="1385.5" y="717.5" width="32" height="27"/>
<rect x="1815.5" y="682.5" width="32" height="27"/>
<rect x="1815.5" y="718.5" width="32" height="26"/>
<rect x="1861.5" y="682.5" width="32" height="27"/>
<rect x="2226.5" y="682.5" width="32" height="26"/>
<rect x="1211.5" y="735.5" width="32" height="27" stroke="none"/>
<path fill="none" d="M1211.5 762.5H1243.5M1211.5 735.5V762.5"/>
<rect x="1298.5" y="735.5" width="32" height="27" stroke="none"/>
<path fill="none" d="M1298.5 762.5H1330.5M1330.5 735.5V762.5"/>
<rect x="1505.5" y="735.5" width="33" height="27" stroke="none"/>
<path fill="none" d="M1505.5 762.5H1538.5M1505.5 735.5V762.5M1538.5 735.5V762.5"/>
<rect x="1551.5" y="735.5" width="33" height="27" stroke="none"/>
<path fill="none" d="M1551.5 762.5H1584.5M1551.5 735.5V762.5"/>
<rect x="1597.5" y="735.5" width="32" height="27" stroke="none"/>
<path fill="none" d="M1597.5 762.5H1629.5M1597.5 735.5V762.5M1629.5 735.5V762.5"/>
<rect x="1643.5" y="735.5" width="32" height="27" stroke="none"/>
<path fill="none" d="M1643.5 762.5H1675.5M1643.5 735.5V762.5M1675.5 735.5V762.5"/>
<rect x="1689.5" y="735.5" width="31" height="27" stroke="none"/>
<path fill="none" d="M1689.5 762.5H1720.5M1689.5 735.5V762.5M1720.5 735.5V762.5"/>
<rect x="1385.5" y="752.5" width="32" height="26"/>
<rect x="1385.5" y="787.5" width="40" height="27"/>
<rect x="1385.5" y="821.5" width="40" height="27"/>
<rect x="1385.5" y="856.5" width="40" height="27"/>
<rect x="1385.5" y="891.5" width="40" height="27"/>
<rect x="1385.5" y="925.5" width="40" height="27"/>
<rect x="1553.5" y="925.5" width="32" height="27"/>
<rect x="1431.5" y="994.5" width="31" height="27"/>
<rect x="1476.5" y="978.5" width="32" height="27"/>
<rect x="1476.5" y="1018.5" width="32" height="27"/>
<rect x="1782.5" y="979.5" width="33" height="28" stroke="none"/>
<path fill="none" d="M1782.5 979.5H1815.5M1782.5 979.5V1007.5"/>
<rect x="2226.5" y="985.5" width="32" height="27"/>
<rect x="1431.5" y="1076.5" width="31" height="27"/>
<rect x="1512.5" y="1076.5" width="31" height="27"/>
<rect x="1553.5" y="1076.5" width="32" height="27"/>
<rect x="1666.5" y="1076.5" width="33" height="27"/>
<rect x="1712.5" y="1076.5" width="33" height="27"/>
<rect x="1758.5" y="1055.5" width="32" height="27"/>
<rect x="1758.5" y="1098.5" width="32" height="26"/>
<rect x="1804.5" y="1076.5" width="32" height="26"/>
<rect x="1861.5" y="1076.5" width="32" height="26"/>
<rect x="1907.5" y="1076.5" width="32" height="26"/>
<rect x="2045.5" y="1076.5" width="31" height="26"/>
<rect x="2090.5" y="1076.5" width="32" height="27"/>
<rect x="2134.5" y="1076.5" width="33" height="27"/>
<rect x="2180.5" y="1055.5" width="32" height="27"/>
<rect x="2226.5" y="1057.5" width="32" height="27"/>
<rect x="2180.5" y="1098.5" width="32" height="26"/>
<rect x="2226.5" y="1098.5" width="32" height="26"/>
<rect x="1476.5" y="1150.5" width="32" height="27"/>
<rect x="1523.5" y="1150.5" width="32" height="27" stroke="none"/>
<path fill="none" d="M1523.5 1150.5H1555.5M1523.5 1177.5H1555.5M1523.5 1150.5V1177.5"/>
<rect x="1570.5" y="1150.5" width="32" height="27"/>
<rect x="1597.5" y="1196.5" width="32" height="27"/>
<rect x="1643.5" y="1196.5" width="32" height="27"/>
<rect x="1453.5" y="1277.5" width="33" height="27" stroke="none"/>
<path fill="none" d="M1453.5 1304.5H1486.5M1453.5 1277.5V1304.5M1486.5 1277.5V1304.5"/>
<rect x="1499.5" y="1277.5" width="32" height="27" stroke="none"/>
<path fill="none" d="M1499.5 1304.5H1531.5M1499.5 1277.5V1304.5M1531.5 1277.5V1304.5"/>
<rect x="1545.5" y="1255.5" width="32" height="27"/>
<rect x="1545.5" y="1300.5" width="32" height="26"/>
<rect x="1666.5" y="1277.5" width="33" height="27"/>
<rect x="1621.5" y="1345.5" width="31" height="26"/>
<rect x="1668.5" y="1345.5" width="33" height="26"/>
<rect x="1714.5" y="1345.5" width="34" height="26" stroke="none"/>
<path fill="none" d="M1714.5 1345.5H1748.5M1714.5 1371.5H1748.5M1714.5 1345.5V1371.5"/>
<rect x="1760.5" y="1345.5" width="32" height="26"/>
<rect x="1804.5" y="1345.5" width="32" height="26"/>
<rect x="1211.5" y="1408.5" width="32" height="27" stroke="none"/>
<path fill="none" d="M1211.5 1408.5H1243.5M1211.5 1435.5H1243.5M1211.5 1408.5V1435.5"/>
<rect x="1254.5" y="1390.5" width="32" height="27"/>
<rect x="1254.5" y="1426.5" width="32" height="27"/>
<rect x="1907.5" y="1473.5" width="32" height="27"/>
<rect x="1952.5" y="1473.5" width="33" height="27"/>
<rect x="1998.5" y="1473.5" width="33" height="27"/>
<rect x="2045.5" y="1473.5" width="31" height="27"/>
<rect x="1144.5" y="1542.5" width="31" height="27"/>
<rect x="1188.5" y="1521.5" width="31" height="27" stroke="none"/>
<path fill="none" d="M1188.5 1521.5H1219.5M1188.5 1521.5V1548.5M1219.5 1521.5V1548.5"/>
<rect x="1188.5" y="1562.5" width="31" height="28" stroke="none"/>
<path fill="none" d="M1188.5 1562.5H1219.5M1188.5 1562.5V1590.5M1219.5 1562.5V1590.5"/>
<rect x="1231.5" y="1562.5" width="32" height="28" stroke="none"/>
<path fill="none" d="M1231.5 1562.5H1263.5M1231.5 1562.5V1590.5M1263.5 1562.5V1590.5"/>
<rect x="1274.5" y="1562.5" width="33" height="28" stroke="none"/>
<path fill="none" d="M1274.5 1562.5H1307.5M1274.5 1562.5V1590.5M1307.5 1562.5V1590.5"/>
<rect x="1318.5" y="1521.5" width="32" height="27" stroke="none"/>
<path fill="none" d="M1318.5 1521.5H1350.5M1318.5 1521.5V1548.5M1350.5 1521.5V1548.5"/>
<rect x="1318.5" y="1562.5" width="32" height="28" stroke="none"/>
<path fill="none" d="M1318.5 1562.5H1350.5M1318.5 1562.5V1590.5M1350.5 1562.5V1590.5"/>
<rect x="1362.5" y="1562.5" width="31" height="28" stroke="none"/>
<path fill="none" d="M1362.5 1562.5H1393.5M1362.5 1562.5V1590.5M1393.5 1562.5V1590.5"/>
<rect x="1406.5" y="1562.5" width="31" height="28" stroke="none"/>
<path fill="none" d="M1406.5 1562.5H1437.5M1406.5 1562.5V1590.5M1437.5 1562.5V1590.5"/>
<rect x="1448.5" y="1562.5" width="33" height="28" stroke="none"/>
<path fill="none" d="M1448.5 1562.5H1481.5M1448.5 1562.5V1590.5M1481.5 1562.5V1590.5"/>
<rect x="1088.5" y="1615.5" width="32" height="26"/>
<rect x="1132.5" y="1615.5" width="31" height="26"/>
</g>
<g font-size="3.9" text-anchor="middle" fill="#000" stroke="#000" stroke-width="0.12">
<text x="816" y="370">witness the</text>
<text x="816" y="374.8">incident</text>
<text x="864" y="355">notifies</text>
<text x="864" y="359.8">in-charge staff</text>
<text x="864" y="386">notifies</text>
<text x="864" y="390.8">security</text>
<text x="816" y="434">witness the</text>
<text x="816" y="438.8">incident</text>
<text x="864" y="434">goes to scene of</text>
<text x="864" y="438.8">incident</text>
<text x="960" y="434">de-escalates the</text>
<text x="960" y="438.8">situation</text>
<text x="816" y="505">witness the</text>
<text x="816" y="509.8">incident</text>
<text x="864" y="505">notifies</text>
<text x="864" y="509.8">security</text>
<text x="912" y="505">goes to scene of</text>
<text x="912" y="509.8">incident</text>
<text x="960" y="505">de-escalates the</text>
<text x="960" y="509.8">situation</text>
<text x="1007.5" y="502.6">writes incident</text>
<text x="1007.5" y="507.4">report based on</text>
<text x="1007.5" y="512.2">Notes</text>
<text x="1055.5" y="489">emails the draft</text>
<text x="1055.5" y="493.8">report to LSM</text>
<text x="1055.5" y="519.1">emails the draft</text>
<text x="1055.5" y="523.9">report to Branch</text>
<text x="1055.5" y="528.7">Head</text>
<text x="960" y="566.1">verbally issues</text>
<text x="960" y="570.9">2-month</text>
<text x="960" y="575.7">exclusion notice</text>
<text x="1008" y="563.7">files hard copy</text>
<text x="1008" y="568.5">of exclusion</text>
<text x="1008" y="573.3">letters for</text>
<text x="1008" y="578.1">branch staff</text>
<text x="1055.5" y="563.7">reviews report</text>
<text x="1055.5" y="568.5">&amp; contacts</text>
<text x="1055.5" y="573.3">associated</text>
<text x="1055.5" y="578.1">departments</text>
<text x="1104.5" y="566.1">emails the draft</text>
<text x="1104.5" y="570.9">report to LSM</text>
<text x="1104.5" y="575.7">for review</text>
<text x="1183.5" y="563.7">in-charge staff</text>
<text x="1183.5" y="568.5">can fill all the</text>
<text x="1183.5" y="573.3">report review</text>
<text x="1183.5" y="578.1">revisions</text>
<text x="1227.5" y="568.5">emails revised</text>
<text x="1227.5" y="573.3">report to LSM</text>
<text x="1270.5" y="568.5">confirm status</text>
<text x="1270.5" y="573.3">of work orders</text>
<text x="1104.5" y="600.6">emails Facilities</text>
<text x="1104.5" y="605.4">with work order</text>
<text x="1104.5" y="610.2">(if applicable)</text>
<text x="1104.5" y="635.6">submits work</text>
<text x="1104.5" y="640.4">order with IT (if</text>
<text x="1104.5" y="645.2">applicable)</text>
<text x="1148" y="633.2">receives</text>
<text x="1148" y="638">updates on</text>
<text x="1148" y="642.8">status of work</text>
<text x="1148" y="647.6">order</text>
<text x="1335" y="568.5">follows up on</text>
<text x="1335" y="573.3">work order</text>
<text x="1401.5" y="568.5">files final report</text>
<text x="1401.5" y="573.3">digitally</text>
<text x="1447" y="566.1">communicates</text>
<text x="1447" y="570.9">report to branch</text>
<text x="1447" y="575.7">staff</text>
<text x="1774.5" y="563.2">Interviewed by</text>
<text x="1774.5" y="568">Violence</text>
<text x="1774.5" y="572.8">Prevention</text>
<text x="1774.5" y="577.6">Committee</text>
<text x="1831.5" y="568.5">customer</text>
<text x="1831.5" y="573.3">requests appeal</text>
<text x="1140" y="694.5">reviews draft</text>
<text x="1140" y="699.3">incident report</text>
<text x="1183.5" y="689.7">discusses report</text>
<text x="1183.5" y="694.5">with Branch</text>
<text x="1183.5" y="699.3">Head &amp; requests</text>
<text x="1183.5" y="704.1">revisions</text>
<text x="1227.5" y="694.5">reviews revised</text>
<text x="1227.5" y="699.3">incident report</text>
<text x="1270.5" y="692.1">verifies Work</text>
<text x="1270.5" y="696.9">orders were</text>
<text x="1270.5" y="701.7">approved</text>
<text x="1314.5" y="692.1">completes</text>
<text x="1314.5" y="696.9">'Branch Service</text>
<text x="1314.5" y="701.7">Manager'</text>
<text x="1357.5" y="694.5">signs &amp; finalizes</text>
<text x="1357.5" y="699.3">report</text>
<text x="1401.5" y="694.5">sends report to</text>
<text x="1401.5" y="699.3">Branch Head</text>
<text x="1401.5" y="730">sends report to</text>
<text x="1401.5" y="734.8">Area Manager</text>
<text x="1831.5" y="695">reviews appeal</text>
<text x="1831.5" y="699.8">request</text>
<text x="1831.5" y="730.5">customer</text>
<text x="1831.5" y="735.3">requests appeal</text>
<text x="1877.5" y="687.8">appeal request</text>
<text x="1877.5" y="692.6">is emailed to</text>
<text x="1877.5" y="697.4">Rules of</text>
<text x="1877.5" y="702.2">Conduct</text>
<text x="1877.5" y="707">Committee</text>
<text x="2242.5" y="694.5">receives appeal</text>
<text x="2242.5" y="699.3">update</text>
<text x="1227.5" y="743.2">for closed</text>
<text x="1227.5" y="748">incidents,</text>
<text x="1227.5" y="752.8">reports severe</text>
<text x="1227.5" y="757.6">findings</text>
<text x="1314.5" y="748">includes photo</text>
<text x="1314.5" y="752.8">to the report</text>
<text x="1522" y="748">LSM goes on</text>
<text x="1522" y="752.8">site to branch</text>
<text x="1568" y="748">assesses if injury</text>
<text x="1568" y="752.8">has occurred</text>
<text x="1613.5" y="745.6">completes WSIB</text>
<text x="1613.5" y="750.4">forms and send</text>
<text x="1613.5" y="755.2">to HR</text>
<text x="1659.5" y="743.2">arranges for</text>
<text x="1659.5" y="748">Hazard</text>
<text x="1659.5" y="752.8">Assessment</text>
<text x="1659.5" y="757.6">with HR</text>
<text x="1705" y="745.6">requests</text>
<text x="1705" y="750.4">more information</text>
<text x="1705" y="755.2">findings</text>
<text x="1401.5" y="764.5">for all incidents,</text>
<text x="1401.5" y="769.3">Regional JHSC</text>
<text x="1405.5" y="795.2">for violent incidents</text>
<text x="1405.5" y="800">emails report to</text>
<text x="1405.5" y="804.8">Violence Prevention</text>
<text x="1405.5" y="809.6">Committee</text>
<text x="1405.5" y="831.6">for violent incidents</text>
<text x="1405.5" y="836.4">emails report to</text>
<text x="1405.5" y="841.2">Director of HR</text>
<text x="1405.5" y="866.6">for violent incidents</text>
<text x="1405.5" y="871.4">emails report to</text>
<text x="1405.5" y="876.2">Senior HR Consultant</text>
<text x="1405.5" y="899.2">for violent incidents</text>
<text x="1405.5" y="904">emails report to</text>
<text x="1405.5" y="908.8">Director of Branch</text>
<text x="1405.5" y="913.6">Operations</text>
<text x="1405.5" y="935.6">for violent incidents</text>
<text x="1405.5" y="940.4">modifies email subject</text>
<text x="1405.5" y="945.2">title of incident</text>
<text x="1569.5" y="935.6">supply closing</text>
<text x="1569.5" y="940.4">information to</text>
<text x="1569.5" y="945.2">Director's AA</text>
<text x="1447" y="1007">reviews final</text>
<text x="1447" y="1011.8">report</text>
<text x="1492.5" y="986.2">if no further</text>
<text x="1492.5" y="991">action needed,</text>
<text x="1492.5" y="995.8">report is filed on</text>
<text x="1492.5" y="1000.6">X Drive</text>
<text x="1492.5" y="1026.2">exclusion</text>
<text x="1492.5" y="1031">requests are</text>
<text x="1492.5" y="1035.8">emailed to</text>
<text x="1492.5" y="1040.6">Director</text>
<text x="1799" y="992.5">receives signed</text>
<text x="1799" y="997.3">exclusion letter</text>
<text x="2242.5" y="998">receives appeal</text>
<text x="2242.5" y="1002.8">update</text>
<text x="1447" y="1089">receives final</text>
<text x="1447" y="1093.8">report</text>
<text x="1528" y="1086.6">AA reviews</text>
<text x="1528" y="1091.4">exclusion</text>
<text x="1528" y="1096.2">requests</text>
<text x="1569.5" y="1084.2">AA contacts</text>
<text x="1569.5" y="1089">Branch Head if</text>
<text x="1569.5" y="1093.8">more info is</text>
<text x="1569.5" y="1098.6">missing</text>
<text x="1683" y="1086.6">AA prepares</text>
<text x="1683" y="1091.4">files for Director</text>
<text x="1683" y="1096.2">to sign</text>
<text x="1729" y="1089">Director signs</text>
<text x="1729" y="1093.8">exclusion letter</text>
<text x="1774.5" y="1065.6">AA emails</text>
<text x="1774.5" y="1070.4">exclusion Letter</text>
<text x="1774.5" y="1075.2">to LSM/BHs</text>
<text x="1774.5" y="1108.1">AA mails</text>
<text x="1774.5" y="1112.9">exclusion Letter</text>
<text x="1774.5" y="1117.7">to customer</text>
<text x="1820.5" y="1088.5">AA puts a block</text>
<text x="1820.5" y="1093.3">on library cards</text>
<text x="1877.5" y="1088.5">receives the</text>
<text x="1877.5" y="1093.3">appeal</text>
<text x="1923.5" y="1083.7">emails appeal to</text>
<text x="1923.5" y="1088.5">Rules of</text>
<text x="1923.5" y="1093.3">Conduct</text>
<text x="1923.5" y="1098.1">Committee</text>
<text x="2061" y="1088.5">AA receives the</text>
<text x="2061" y="1093.3">package</text>
<text x="2106.5" y="1086.6">sends to</text>
<text x="2106.5" y="1091.4">Director for</text>
<text x="2106.5" y="1096.2">review</text>
<text x="2151" y="1086.6">Director reviews</text>
<text x="2151" y="1091.4">and signs within</text>
<text x="2151" y="1096.2">48 hours</text>
<text x="2196.5" y="1068">AA mails letter</text>
<text x="2196.5" y="1072.8">to customer</text>
<text x="2242.5" y="1067.6">AA emails AM</text>
<text x="2242.5" y="1072.4">with status</text>
<text x="2242.5" y="1077.2">update</text>
<text x="2196.5" y="1105.7">AA removes</text>
<text x="2196.5" y="1110.5">block on</text>
<text x="2196.5" y="1115.3">customer's</text>
<text x="2196.5" y="1120.1">account</text>
<text x="2242.5" y="1108.1">AA emails LSM</text>
<text x="2242.5" y="1112.9">with status</text>
<text x="2242.5" y="1117.7">update</text>
<text x="1492.5" y="1163">reviews incident</text>
<text x="1492.5" y="1167.8">report</text>
<text x="1539.5" y="1163">emails report to</text>
<text x="1539.5" y="1167.8">assistant</text>
<text x="1586.5" y="1158.2">assistant prints</text>
<text x="1586.5" y="1163">report (until</text>
<text x="1586.5" y="1167.8">Inspect gets</text>
<text x="1586.5" y="1172.6">Shared PIN)</text>
<text x="1613.5" y="1209">HR receives</text>
<text x="1613.5" y="1213.8">WSIB forms</text>
<text x="1659.5" y="1206.6">reviews request</text>
<text x="1659.5" y="1211.4">for Hazard</text>
<text x="1659.5" y="1216.2">Assessment</text>
<text x="1470" y="1290">Receives email</text>
<text x="1470" y="1294.8">with final report</text>
<text x="1515.5" y="1290">review all</text>
<text x="1515.5" y="1294.8">reports</text>
<text x="1561.5" y="1265.6">reports several</text>
<text x="1561.5" y="1270.4">incidents from</text>
<text x="1561.5" y="1275.2">the region</text>
<text x="1561.5" y="1305.3">violent reports</text>
<text x="1561.5" y="1310.1">are emailed to</text>
<text x="1561.5" y="1314.9">Violence</text>
<text x="1561.5" y="1319.7">Prevention</text>
<text x="1561.5" y="1324.5">Committee</text>
<text x="1683" y="1282.8">incident</text>
<text x="1683" y="1287.6">reports are</text>
<text x="1683" y="1292.4">discussed</text>
<text x="1683" y="1297.2">at bi-monthly</text>
<text x="1683" y="1302">meeting</text>
<text x="1637" y="1357.5">receives email</text>
<text x="1637" y="1362.3">with final report</text>
<text x="1685" y="1359.9">reviews incident</text>
<text x="1731.5" y="1355.1">conduct</text>
<text x="1731.5" y="1359.9">assessment of</text>
<text x="1731.5" y="1364.7">Workplace</text>
<text x="1776.5" y="1355.1">interview staff</text>
<text x="1776.5" y="1359.9">involved in</text>
<text x="1776.5" y="1364.7">incident</text>
<text x="1820.5" y="1352.7">provide report</text>
<text x="1820.5" y="1357.5">and actions</text>
<text x="1820.5" y="1362.3">items for the</text>
<text x="1820.5" y="1367.1">library</text>
<text x="1227.5" y="1418.6">Searches for the</text>
<text x="1227.5" y="1423.4">findings of</text>
<text x="1227.5" y="1428.2">incident</text>
<text x="1270.5" y="1400.6">Shares photos</text>
<text x="1270.5" y="1405.4">or footage with</text>
<text x="1270.5" y="1410.2">LSM</text>
<text x="1270.5" y="1439">files it in paper</text>
<text x="1270.5" y="1443.8">format</text>
<text x="1923.5" y="1486">receive the</text>
<text x="1923.5" y="1490.8">request</text>
<text x="1969" y="1483.6">convenes</text>
<text x="1969" y="1488.4">volunteer &amp;</text>
<text x="1969" y="1493.2">take the request</text>
<text x="2015" y="1481.2">review the</text>
<text x="2015" y="1486">incident report</text>
<text x="2015" y="1490.8">summary and</text>
<text x="2015" y="1495.6">take a vote</text>
<text x="2061" y="1486">send to</text>
<text x="2061" y="1490.8">Director's office</text>
<text x="1160" y="1555">receives work</text>
<text x="1160" y="1559.8">order</text>
<text x="1204" y="1531.6">contact Coach</text>
<text x="1204" y="1536.4">for security</text>
<text x="1204" y="1541.2">guard requests</text>
<text x="1204" y="1573.1">contact third</text>
<text x="1204" y="1577.9">party vendors</text>
<text x="1204" y="1582.7">for requests</text>
<text x="1247.5" y="1573.1">input requests</text>
<text x="1247.5" y="1577.9">into Smart</text>
<text x="1247.5" y="1582.7">Sheets</text>
<text x="1291" y="1570.7">receives current</text>
<text x="1291" y="1575.5">updates from</text>
<text x="1291" y="1580.3">Smart Sheets</text>
<text x="1291" y="1585.1">through email</text>
<text x="1334.5" y="1529.2">receives follow-</text>
<text x="1334.5" y="1534">up email on</text>
<text x="1334.5" y="1538.8">work order</text>
<text x="1334.5" y="1543.6">status</text>
<text x="1334.5" y="1577.9">provides update</text>
<text x="1378" y="1570.7">follow up with</text>
<text x="1378" y="1575.5">vendors for</text>
<text x="1378" y="1580.3">incomplete</text>
<text x="1378" y="1585.1">items</text>
<text x="1422" y="1570.7">receive updates</text>
<text x="1422" y="1575.5">from Smart</text>
<text x="1422" y="1580.3">Sheets on</text>
<text x="1422" y="1585.1">current report</text>
<text x="1465" y="1577.9">provides update</text>
<text x="1104.5" y="1627.5">receive work</text>
<text x="1104.5" y="1632.3">order</text>
<text x="1148" y="1625.1">Vendor notifies</text>
<text x="1148" y="1629.9">staff of work</text>
<text x="1148" y="1634.7">order status</text>
</g>
<g fill="none" stroke="#c9252c" stroke-linejoin="round" stroke-linecap="round">
<g transform="translate(913.75 448.75) scale(0.38) translate(-59.85 -1179.2)" stroke-width="2.25"><path fill="#fff" d="M44 1188.5 L44 1165.6 Q44 1162.9 46.7 1162.9 Q49.4 1162.9 49.4 1165.6 L49.4 1177.8 M49.4 1165.6 L49.4 1162.6 Q49.4 1159.9 52.15 1159.9 Q54.9 1159.9 54.9 1162.6 L54.9 1177.8 M54.9 1162.6 L54.9 1160.5 Q54.9 1157.85 57.65 1157.85 Q60.4 1157.85 60.4 1160.5 L60.4 1177.8 M60.4 1163.4 Q60.4 1160.7 62.85 1160.7 Q65.3 1160.7 65.3 1163.4 L65.3 1184.4 L72.6 1179.9 Q74.4 1178.9 75.6 1180.3 Q76.5 1181.6 75.6 1183 L63.9 1200.45 L53.4 1200.45 Q44 1199 44 1188.5 M65.3 1184.4 L61.2 1189.9"/><path d="M54.35 1180.2 L57.05 1180.2 L56.51 1193.3 L54.89 1193.3 Z" fill="#c9252c" stroke="none"/><circle cx="55.7" cy="1196.4" r="1.5" fill="#c9252c" stroke="none"/></g>
<g transform="translate(1083 505.5) scale(0.38) translate(-59.85 -1179.2)" stroke-width="2.25"><path fill="#fff" d="M44 1188.5 L44 1165.6 Q44 1162.9 46.7 1162.9 Q49.4 1162.9 49.4 1165.6 L49.4 1177.8 M49.4 1165.6 L49.4 1162.6 Q49.4 1159.9 52.15 1159.9 Q54.9 1159.9 54.9 1162.6 L54.9 1177.8 M54.9 1162.6 L54.9 1160.5 Q54.9 1157.85 57.65 1157.85 Q60.4 1157.85 60.4 1160.5 L60.4 1177.8 M60.4 1163.4 Q60.4 1160.7 62.85 1160.7 Q65.3 1160.7 65.3 1163.4 L65.3 1184.4 L72.6 1179.9 Q74.4 1178.9 75.6 1180.3 Q76.5 1181.6 75.6 1183 L63.9 1200.45 L53.4 1200.45 Q44 1199 44 1188.5 M65.3 1184.4 L61.2 1189.9"/><path d="M54.35 1180.2 L57.05 1180.2 L56.51 1193.3 L54.89 1193.3 Z" fill="#c9252c" stroke="none"/><circle cx="55.7" cy="1196.4" r="1.5" fill="#c9252c" stroke="none"/></g>
<g transform="translate(928.25 586.75) scale(0.38) translate(-59.85 -1179.2)" stroke-width="2.25"><path fill="#fff" d="M44 1188.5 L44 1165.6 Q44 1162.9 46.7 1162.9 Q49.4 1162.9 49.4 1165.6 L49.4 1177.8 M49.4 1165.6 L49.4 1162.6 Q49.4 1159.9 52.15 1159.9 Q54.9 1159.9 54.9 1162.6 L54.9 1177.8 M54.9 1162.6 L54.9 1160.5 Q54.9 1157.85 57.65 1157.85 Q60.4 1157.85 60.4 1160.5 L60.4 1177.8 M60.4 1163.4 Q60.4 1160.7 62.85 1160.7 Q65.3 1160.7 65.3 1163.4 L65.3 1184.4 L72.6 1179.9 Q74.4 1178.9 75.6 1180.3 Q76.5 1181.6 75.6 1183 L63.9 1200.45 L53.4 1200.45 Q44 1199 44 1188.5 M65.3 1184.4 L61.2 1189.9"/><path d="M54.35 1180.2 L57.05 1180.2 L56.51 1193.3 L54.89 1193.3 Z" fill="#c9252c" stroke="none"/><circle cx="55.7" cy="1196.4" r="1.5" fill="#c9252c" stroke="none"/></g>
<g transform="translate(1135 1561.25) scale(0.38) translate(-59.85 -1179.2)" stroke-width="2.25"><path fill="#fff" d="M44 1188.5 L44 1165.6 Q44 1162.9 46.7 1162.9 Q49.4 1162.9 49.4 1165.6 L49.4 1177.8 M49.4 1165.6 L49.4 1162.6 Q49.4 1159.9 52.15 1159.9 Q54.9 1159.9 54.9 1162.6 L54.9 1177.8 M54.9 1162.6 L54.9 1160.5 Q54.9 1157.85 57.65 1157.85 Q60.4 1157.85 60.4 1160.5 L60.4 1177.8 M60.4 1163.4 Q60.4 1160.7 62.85 1160.7 Q65.3 1160.7 65.3 1163.4 L65.3 1184.4 L72.6 1179.9 Q74.4 1178.9 75.6 1180.3 Q76.5 1181.6 75.6 1183 L63.9 1200.45 L53.4 1200.45 Q44 1199 44 1188.5 M65.3 1184.4 L61.2 1189.9"/><path d="M54.35 1180.2 L57.05 1180.2 L56.51 1193.3 L54.89 1193.3 Z" fill="#c9252c" stroke="none"/><circle cx="55.7" cy="1196.4" r="1.5" fill="#c9252c" stroke="none"/></g>
<g transform="translate(990 488) scale(0.38) translate(-61.8 -652.7)" stroke-width="2.25"><path fill="#fff" d="M50.1 634.7 Q46.9 634.9 46.9 638 L46.9 670.3 Q46.9 672.95 49.6 672.95 L72 672.95 Q74.7 672.95 74.8 669.9"/><rect fill="#fff" x="50.15" y="632.55" width="26.6" height="37.1" rx="1.6"/><path d="M50.1 634.7 Q46.9 634.9 46.9 638 L46.9 670.3 Q46.9 672.95 49.6 672.95 L72 672.95 Q74.7 672.95 74.8 669.9"/><path d="M61.75 642 L64.45 642 L63.91 654.4 L62.29 654.4 Z" fill="#c9252c" stroke="none"/><circle cx="63.1" cy="658.4" r="1.5" fill="#c9252c" stroke="none"/></g>
<g transform="translate(945.75 586.75) scale(0.38) translate(-61.8 -652.7)" stroke-width="2.25"><path fill="#fff" d="M50.1 634.7 Q46.9 634.9 46.9 638 L46.9 670.3 Q46.9 672.95 49.6 672.95 L72 672.95 Q74.7 672.95 74.8 669.9"/><rect fill="#fff" x="50.15" y="632.55" width="26.6" height="37.1" rx="1.6"/><path d="M50.1 634.7 Q46.9 634.9 46.9 638 L46.9 670.3 Q46.9 672.95 49.6 672.95 L72 672.95 Q74.7 672.95 74.8 669.9"/><path d="M61.75 642 L64.45 642 L63.91 654.4 L62.29 654.4 Z" fill="#c9252c" stroke="none"/><circle cx="63.1" cy="658.4" r="1.5" fill="#c9252c" stroke="none"/></g>
<g transform="translate(966.25 586.25) scale(0.38) translate(-61.5 -1384.6)" stroke-width="2.25"><path d="M39.9 1384.6 Q49.5 1373.2 61.5 1373.2 Q73.5 1373.2 83.1 1384.6 Q73.5 1396.5 61.5 1396.5 Q49.5 1396.5 39.9 1384.6 Z"/><path d="M41.9 1398.4 L80.7 1370.7"/><path d="M53.3 1387.8 A8.1 8.1 0 0 1 67.4 1378.2"/><path d="M59.95 1378.9 L62.25 1378.9 L61.79 1388.3 L60.41 1388.3 Z" fill="#c9252c" stroke="none"/><circle cx="61.1" cy="1392.2" r="1.4" fill="#c9252c" stroke="none"/></g>
<g transform="translate(1358 781.25) scale(0.38) translate(-61.5 -1384.6)" stroke-width="2.25"><path d="M39.9 1384.6 Q49.5 1373.2 61.5 1373.2 Q73.5 1373.2 83.1 1384.6 Q73.5 1396.5 61.5 1396.5 Q49.5 1396.5 39.9 1384.6 Z"/><path d="M41.9 1398.4 L80.7 1370.7"/><path d="M53.3 1387.8 A8.1 8.1 0 0 1 67.4 1378.2"/><path d="M59.95 1378.9 L62.25 1378.9 L61.79 1388.3 L60.41 1388.3 Z" fill="#c9252c" stroke="none"/><circle cx="61.1" cy="1392.2" r="1.4" fill="#c9252c" stroke="none"/></g>
<g transform="translate(998.75 587) scale(0.38) translate(-61.25 -904.5)" stroke-width="2.25"><path fill="#fff" d="M40 895.2 L80.4 895.2 Q82.5 895.2 82.5 897.3 L82.5 920 Q82.5 922.1 80.4 922.1 L42.1 922.1 Q40 922.1 40 920 L40 888.6 Q40 886.7 42 886.7 L47.6 886.7 Q49 886.7 49.8 887.9 L55.4 895.2"/><path d="M59.8 899.2 L62.4 899.2 L61.88 912.4 L60.32 912.4 Z" fill="#c9252c" stroke="none"/><circle cx="61.1" cy="915.3" r="1.5" fill="#c9252c" stroke="none"/></g>
<g transform="translate(1401.75 614) scale(0.38) translate(-61.25 -904.5)" stroke-width="2.25"><path fill="#fff" d="M40 895.2 L80.4 895.2 Q82.5 895.2 82.5 897.3 L82.5 920 Q82.5 922.1 80.4 922.1 L42.1 922.1 Q40 922.1 40 920 L40 888.6 Q40 886.7 42 886.7 L47.6 886.7 Q49 886.7 49.8 887.9 L55.4 895.2"/><path d="M59.8 899.2 L62.4 899.2 L61.88 912.4 L60.32 912.4 Z" fill="#c9252c" stroke="none"/><circle cx="61.1" cy="915.3" r="1.5" fill="#c9252c" stroke="none"/></g>
<g transform="translate(1521.75 991.5) scale(0.38) translate(-61.25 -904.5)" stroke-width="2.25"><path fill="#fff" d="M40 895.2 L80.4 895.2 Q82.5 895.2 82.5 897.3 L82.5 920 Q82.5 922.1 80.4 922.1 L42.1 922.1 Q40 922.1 40 920 L40 888.6 Q40 886.7 42 886.7 L47.6 886.7 Q49 886.7 49.8 887.9 L55.4 895.2"/><path d="M59.8 899.2 L62.4 899.2 L61.88 912.4 L60.32 912.4 Z" fill="#c9252c" stroke="none"/><circle cx="61.1" cy="915.3" r="1.5" fill="#c9252c" stroke="none"/></g>
<g transform="translate(1570 1061.5) scale(0.38) translate(-61.25 -904.5)" stroke-width="2.25"><path fill="#fff" d="M40 895.2 L80.4 895.2 Q82.5 895.2 82.5 897.3 L82.5 920 Q82.5 922.1 80.4 922.1 L42.1 922.1 Q40 922.1 40 920 L40 888.6 Q40 886.7 42 886.7 L47.6 886.7 Q49 886.7 49.8 887.9 L55.4 895.2"/><path d="M59.8 899.2 L62.4 899.2 L61.88 912.4 L60.32 912.4 Z" fill="#c9252c" stroke="none"/><circle cx="61.1" cy="915.3" r="1.5" fill="#c9252c" stroke="none"/></g>
<g transform="translate(1589.6 1269) scale(0.38) translate(-61.25 -904.5)" stroke-width="2.25"><path fill="#fff" d="M40 895.2 L80.4 895.2 Q82.5 895.2 82.5 897.3 L82.5 920 Q82.5 922.1 80.4 922.1 L42.1 922.1 Q40 922.1 40 920 L40 888.6 Q40 886.7 42 886.7 L47.6 886.7 Q49 886.7 49.8 887.9 L55.4 895.2"/><path d="M59.8 899.2 L62.4 899.2 L61.88 912.4 L60.32 912.4 Z" fill="#c9252c" stroke="none"/><circle cx="61.1" cy="915.3" r="1.5" fill="#c9252c" stroke="none"/></g>
<g transform="translate(1711.25 1291.5) scale(0.38) translate(-61.25 -904.5)" stroke-width="2.25"><path fill="#fff" d="M40 895.2 L80.4 895.2 Q82.5 895.2 82.5 897.3 L82.5 920 Q82.5 922.1 80.4 922.1 L42.1 922.1 Q40 922.1 40 920 L40 888.6 Q40 886.7 42 886.7 L47.6 886.7 Q49 886.7 49.8 887.9 L55.4 895.2"/><path d="M59.8 899.2 L62.4 899.2 L61.88 912.4 L60.32 912.4 Z" fill="#c9252c" stroke="none"/><circle cx="61.1" cy="915.3" r="1.5" fill="#c9252c" stroke="none"/></g>
<g transform="translate(1820 1291.5) scale(0.38) translate(-61.25 -904.5)" stroke-width="2.25"><path fill="#fff" d="M40 895.2 L80.4 895.2 Q82.5 895.2 82.5 897.3 L82.5 920 Q82.5 922.1 80.4 922.1 L42.1 922.1 Q40 922.1 40 920 L40 888.6 Q40 886.7 42 886.7 L47.6 886.7 Q49 886.7 49.8 887.9 L55.4 895.2"/><path d="M59.8 899.2 L62.4 899.2 L61.88 912.4 L60.32 912.4 Z" fill="#c9252c" stroke="none"/><circle cx="61.1" cy="915.3" r="1.5" fill="#c9252c" stroke="none"/></g>
<g transform="translate(2014.75 1462) scale(0.38) translate(-61.25 -904.5)" stroke-width="2.25"><path fill="#fff" d="M40 895.2 L80.4 895.2 Q82.5 895.2 82.5 897.3 L82.5 920 Q82.5 922.1 80.4 922.1 L42.1 922.1 Q40 922.1 40 920 L40 888.6 Q40 886.7 42 886.7 L47.6 886.7 Q49 886.7 49.8 887.9 L55.4 895.2"/><path d="M59.8 899.2 L62.4 899.2 L61.88 912.4 L60.32 912.4 Z" fill="#c9252c" stroke="none"/><circle cx="61.1" cy="915.3" r="1.5" fill="#c9252c" stroke="none"/></g>
<g transform="translate(1475 568) scale(0.38) translate(-61.5 -351.1)" stroke-width="2.25"><path fill="#fff" d="M50.6 365.9 C44.4 362.7 41.9 357.2 41.9 351.1 C41.9 341.4 50.7 333.4 61.5 333.4 C72.3 333.4 81.2 341.4 81.2 351.1 C81.2 360.9 72.3 369 61.5 369 C59.3 369 57.2 368.7 55.3 368.1 L44.9 370.8 Z"/><path d="M59.45 342.3 L62.35 342.3 L61.77 359.8 L60.03 359.8 Z" fill="#c9252c" stroke="none"/></g>
<g transform="translate(1359.25 727.5) scale(0.38) translate(-61.5 -351.1)" stroke-width="2.25"><path fill="#fff" d="M50.6 365.9 C44.4 362.7 41.9 357.2 41.9 351.1 C41.9 341.4 50.7 333.4 61.5 333.4 C72.3 333.4 81.2 341.4 81.2 351.1 C81.2 360.9 72.3 369 61.5 369 C59.3 369 57.2 368.7 55.3 368.1 L44.9 370.8 Z"/><path d="M59.45 342.3 L62.35 342.3 L61.77 359.8 L60.03 359.8 Z" fill="#c9252c" stroke="none"/></g>
<g transform="translate(1705 776.25) scale(0.38) translate(-61.5 -351.1)" stroke-width="2.25"><path fill="#fff" d="M50.6 365.9 C44.4 362.7 41.9 357.2 41.9 351.1 C41.9 341.4 50.7 333.4 61.5 333.4 C72.3 333.4 81.2 341.4 81.2 351.1 C81.2 360.9 72.3 369 61.5 369 C59.3 369 57.2 368.7 55.3 368.1 L44.9 370.8 Z"/><path d="M59.45 342.3 L62.35 342.3 L61.77 359.8 L60.03 359.8 Z" fill="#c9252c" stroke="none"/></g>
<g transform="translate(2228 1128.75) scale(0.38) translate(-61.5 -351.1)" stroke-width="2.25"><path fill="#fff" d="M50.6 365.9 C44.4 362.7 41.9 357.2 41.9 351.1 C41.9 341.4 50.7 333.4 61.5 333.4 C72.3 333.4 81.2 341.4 81.2 351.1 C81.2 360.9 72.3 369 61.5 369 C59.3 369 57.2 368.7 55.3 368.1 L44.9 370.8 Z"/><path d="M59.45 342.3 L62.35 342.3 L61.77 359.8 L60.03 359.8 Z" fill="#c9252c" stroke="none"/></g>
<g transform="translate(1470 1262) scale(0.38) translate(-61.5 -351.1)" stroke-width="2.25"><path fill="#fff" d="M50.6 365.9 C44.4 362.7 41.9 357.2 41.9 351.1 C41.9 341.4 50.7 333.4 61.5 333.4 C72.3 333.4 81.2 341.4 81.2 351.1 C81.2 360.9 72.3 369 61.5 369 C59.3 369 57.2 368.7 55.3 368.1 L44.9 370.8 Z"/><path d="M59.45 342.3 L62.35 342.3 L61.77 359.8 L60.03 359.8 Z" fill="#c9252c" stroke="none"/></g>
<g transform="translate(1160 1513) scale(0.38) translate(-61.5 -351.1)" stroke-width="2.25"><path fill="#fff" d="M50.6 365.9 C44.4 362.7 41.9 357.2 41.9 351.1 C41.9 341.4 50.7 333.4 61.5 333.4 C72.3 333.4 81.2 341.4 81.2 351.1 C81.2 360.9 72.3 369 61.5 369 C59.3 369 57.2 368.7 55.3 368.1 L44.9 370.8 Z"/><path d="M59.45 342.3 L62.35 342.3 L61.77 359.8 L60.03 359.8 Z" fill="#c9252c" stroke="none"/></g>
</g>
<g fill="#fff" stroke="#c9252c" stroke-width="0.7">
<circle cx="918.5" cy="445" r="2.6"/>
<circle cx="1087.5" cy="502" r="2.6"/>
<circle cx="932.5" cy="583.5" r="2.6"/>
<circle cx="1139" cy="1558" r="2.6"/>
<circle cx="996.9" cy="484.5" r="2.6"/>
<circle cx="1001.8" cy="484.5" r="2.6"/>
<circle cx="1006.7" cy="484.5" r="2.6"/>
<circle cx="1011.6" cy="484.5" r="2.6"/>
<circle cx="951" cy="583" r="2.6"/>
<circle cx="973" cy="582" r="2.6"/>
<circle cx="1363.5" cy="777.5" r="2.6"/>
<circle cx="1007" cy="583" r="2.6"/>
<circle cx="1409.5" cy="610" r="2.6"/>
<circle cx="1414.5" cy="610" r="2.6"/>
<circle cx="1529.5" cy="987.5" r="2.6"/>
<circle cx="1534.5" cy="987.5" r="2.6"/>
<circle cx="1578" cy="1057.5" r="2.6"/>
<circle cx="1597" cy="1265" r="2.6"/>
<circle cx="1602" cy="1265" r="2.6"/>
<circle cx="1720.5" cy="1287" r="2.6"/>
<circle cx="1829" cy="1287" r="2.6"/>
<circle cx="2023" cy="1457.75" r="2.6"/>
<circle cx="2027.5" cy="1457.75" r="2.6"/>
<circle cx="2032" cy="1457.75" r="2.6"/>
<circle cx="2036.5" cy="1457.75" r="2.6"/>
<circle cx="2039.5" cy="1457.75" r="2.6"/>
<circle cx="1481" cy="563.5" r="2.6"/>
<circle cx="1366" cy="723" r="2.6"/>
<circle cx="1711" cy="771.5" r="2.6"/>
<circle cx="2234" cy="1124" r="2.6"/>
<circle cx="1476.5" cy="1257" r="2.6"/>
<circle cx="1166.5" cy="1508" r="2.6"/>
</g>
<g font-size="3.2" font-weight="bold" text-anchor="middle" fill="#c9252c">
<text x="918.5" y="446.15">1</text>
<text x="1087.5" y="503.15">1</text>
<text x="932.5" y="584.65">1</text>
<text x="1139" y="1559.15">1</text>
<text x="996.9" y="485.65">1</text>
<text x="1001.8" y="485.65">2</text>
<text x="1006.7" y="485.65">3</text>
<text x="1011.6" y="485.65">6</text>
<text x="951" y="584.15">4</text>
<text x="973" y="583.15">1</text>
<text x="1363.5" y="778.65">1</text>
<text x="1007" y="584.15">1</text>
<text x="1409.5" y="611.15">1</text>
<text x="1414.5" y="611.15">2</text>
<text x="1529.5" y="988.65">1</text>
<text x="1534.5" y="988.65">2</text>
<text x="1578" y="1058.65">3</text>
<text x="1597" y="1266.15">1</text>
<text x="1602" y="1266.15">2</text>
<text x="1720.5" y="1288.15">3</text>
<text x="1829" y="1288.15">3</text>
<text x="2023" y="1458.9">1</text>
<text x="2027.5" y="1458.9">2</text>
<text x="2032" y="1458.9">3</text>
<text x="2036.5" y="1458.9">4</text>
<text x="2039.5" y="1458.9">5</text>
<text x="1481" y="564.65">2</text>
<text x="1366" y="724.15">3</text>
<text x="1711" y="772.65">4</text>
<text x="2234" y="1125.15">4</text>
<text x="1476.5" y="1258.15">5</text>
<text x="1166.5" y="1509.15">4</text>
</g>
</svg>
</body></html>
